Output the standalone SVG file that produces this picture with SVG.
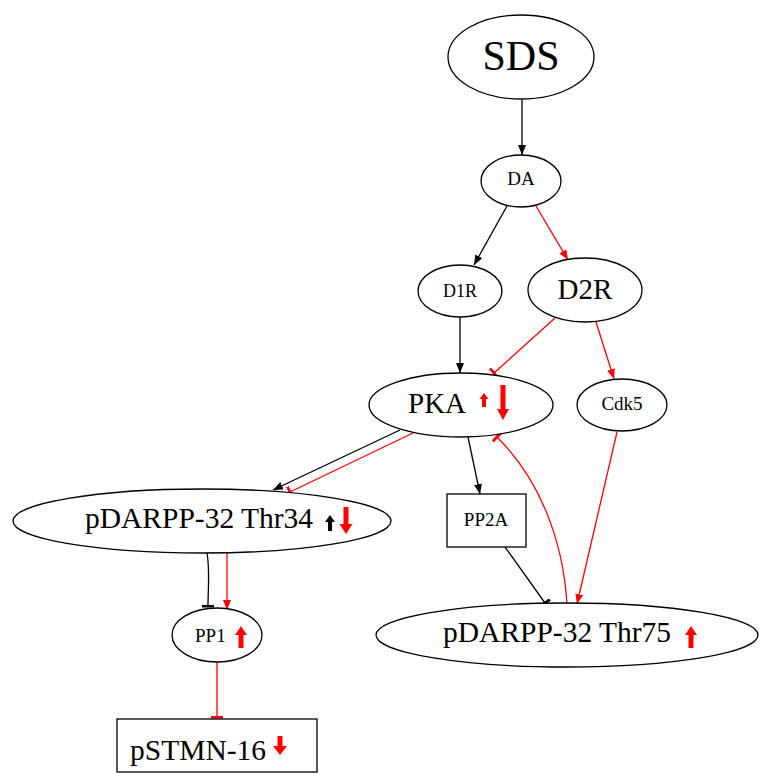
<svg xmlns="http://www.w3.org/2000/svg" width="768" height="782" viewBox="0 0 768 782">
<style>
.n{fill:#fff;stroke:#000;stroke-width:1.3}
.t{font-family:"Liberation Serif","Times New Roman",serif;fill:#000}
.e{fill:none;stroke-width:1.3}
.k{stroke:#000}
.r{stroke:#f00}
.ir{fill:#f00}
.ik{fill:#000}
</style>
<defs>
<marker id="ak" viewBox="0 0 10 8" refX="10" refY="4" markerWidth="10" markerHeight="8" markerUnits="userSpaceOnUse" orient="auto"><path d="M0,0 L10,4 L0,8 Z" fill="#000"/></marker>
<marker id="ar" viewBox="0 0 10 8" refX="10" refY="4" markerWidth="10" markerHeight="8" markerUnits="userSpaceOnUse" orient="auto"><path d="M0,0 L10,4 L0,8 Z" fill="#f00"/></marker>
<marker id="tk" viewBox="0 0 3 12" refX="1.5" refY="6" markerWidth="3" markerHeight="12" markerUnits="userSpaceOnUse" orient="auto"><rect x="0" y="0" width="3" height="12" fill="#000"/></marker>
<marker id="tr" viewBox="0 0 3 12" refX="1.5" refY="6" markerWidth="3" markerHeight="12" markerUnits="userSpaceOnUse" orient="auto"><rect x="0" y="0" width="3" height="12" fill="#f00"/></marker>
</defs>
<rect width="768" height="782" fill="#fff"/>
<g id="edges">
<path class="e k" d="M522,100 L522,155" marker-end="url(#ak)"/>
<path class="e k" d="M507,206 L474,265" marker-end="url(#ak)"/>
<path class="e r" d="M536,206 L568,260" marker-end="url(#ar)"/>
<path class="e k" d="M460,317 L460,373" marker-end="url(#ak)"/>
<path class="e r" d="M555,318 L494,373" marker-end="url(#tr)"/>
<path class="e r" d="M596,322 L614,379" marker-end="url(#ar)"/>
<path class="e k" d="M468,437 L480,494" marker-end="url(#ak)"/>
<path class="e k" d="M400,430 L273,490" marker-end="url(#ak)"/>
<path class="e r" d="M413,433 L290,492" marker-end="url(#tr)"/>
<path class="e r" d="M617,432 L577,604" marker-end="url(#ar)"/>
<path class="e k" d="M505,547 L545,603" marker-end="url(#tk)"/>
<path class="e r" d="M567,604 C563,540 540,480 497,437" marker-end="url(#tr)"/>
<path class="e k" d="M207,553 C210,570 208,590 208,606" marker-end="url(#tk)"/>
<path class="e r" d="M227,553 L227,610" marker-end="url(#ar)"/>
<path class="e r" d="M217,662 L217,717" marker-end="url(#tr)"/>
</g>
<g id="SDS"><ellipse class="n" cx="521" cy="57" rx="73" ry="42"/><text class="t" x="521" y="70" font-size="42" text-anchor="middle">SDS</text></g>
<g id="DA"><ellipse class="n" cx="521" cy="181" rx="40" ry="26"/><text class="t" x="521" y="185" font-size="19" text-anchor="middle">DA</text></g>
<g id="D1R"><ellipse class="n" cx="460" cy="291" rx="42" ry="26"/><text class="t" x="460" y="297" font-size="18" text-anchor="middle">D1R</text></g>
<g id="D2R"><ellipse class="n" cx="585" cy="290" rx="57" ry="32"/><text class="t" x="585" y="299" font-size="29" text-anchor="middle">D2R</text></g>
<g id="PKA"><ellipse class="n" cx="461" cy="405" rx="92" ry="32"/><text class="t" x="408" y="413" font-size="29">PKA</text>
<path class="ir" d="M484,393 L488.5,399 L486,399 L486,407 L482,407 L482,399 L479.5,399 Z"/>
<path class="ir" d="M503,420 L509,409 L505.5,409 L505.5,385 L500.5,385 L500.5,409 L497,409 Z"/></g>
<g id="Cdk5"><ellipse class="n" cx="622" cy="405" rx="45" ry="26"/><text class="t" x="622" y="410" font-size="19" text-anchor="middle">Cdk5</text></g>
<g id="PP2A"><rect class="n" x="447" y="494" width="79" height="53"/><text class="t" x="486" y="526" font-size="19" text-anchor="middle">PP2A</text></g>
<g id="Thr34"><ellipse class="n" cx="202" cy="521" rx="189" ry="32"/><text class="t" x="85" y="528" font-size="29.5">pDARPP-32 Thr34</text>
<path class="ik" d="M330,515 L335,522 L332,522 L332,531 L328,531 L328,522 L325,522 Z"/>
<path class="ir" d="M346,534 L352.5,524 L348.5,524 L348.5,507 L343.5,507 L343.5,524 L339.5,524 Z"/></g>
<g id="Thr75"><ellipse class="n" cx="567" cy="635" rx="191" ry="32"/><text class="t" x="443" y="642" font-size="29.5">pDARPP-32 Thr75</text>
<path class="ir" d="M691,626 L697,635 L693.5,635 L693.5,648 L688.5,648 L688.5,635 L685,635 Z"/></g>
<g id="PP1"><ellipse class="n" cx="217" cy="635" rx="45" ry="27"/><text class="t" x="195" y="642" font-size="19">PP1</text>
<path class="ir" d="M241,626 L247,635 L243.5,635 L243.5,648 L238.5,648 L238.5,635 L235,635 Z"/></g>
<g id="pSTMN"><rect class="n" x="117" y="719" width="200" height="53"/><text class="t" x="130" y="760" font-size="29.5">pSTMN-16</text>
<path class="ir" d="M280,755 L287,746 L282.5,746 L282.5,736 L277.5,736 L277.5,746 L273,746 Z"/></g>
</svg>
